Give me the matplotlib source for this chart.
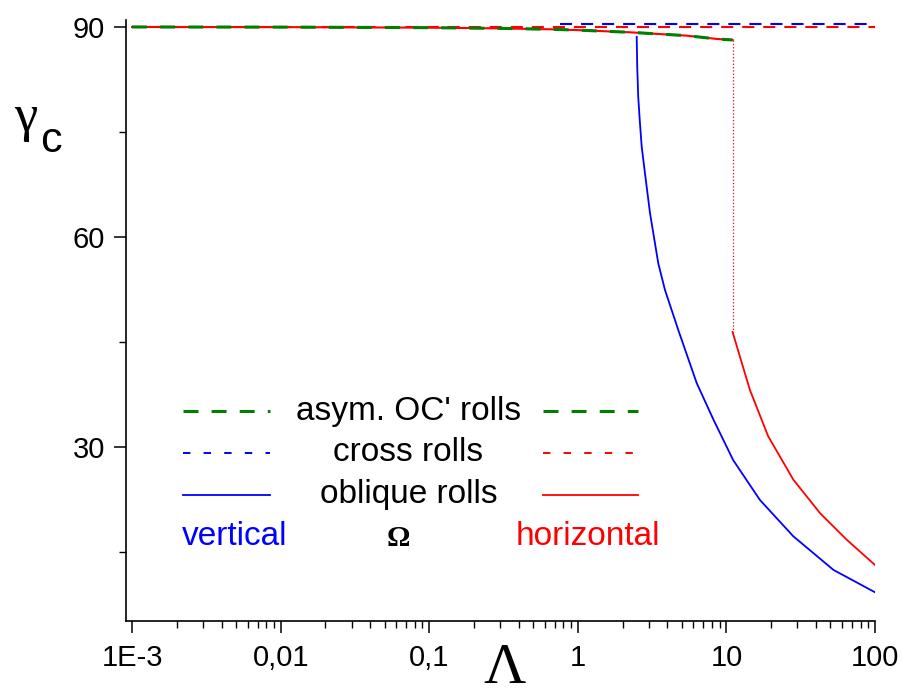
import matplotlib
matplotlib.use('Agg')
import matplotlib.pyplot as plt
from matplotlib.ticker import FixedLocator, FixedFormatter, LogLocator, NullFormatter

plt.rcParams['font.family'] = ['Liberation Sans', 'DejaVu Sans']

# asym. OC' rolls (and oblique horizontal, upper branch)
asym_x = [1e-3, 0.01, 0.1, 0.3, 0.65, 1.0, 2.24, 5.4, 8.6, 11.0]
asym_y = [90.0, 89.98, 89.9, 89.8, 89.67, 89.55, 89.24, 88.76, 88.29, 88.14]

# cross rolls
cross_h_x = [1e-3, 100]
cross_h_y = [90.0, 90.0]
cross_v_x = [0.76, 100]
cross_v_y = [90.43, 90.43]

# oblique rolls, vertical Omega
obl_v_x = [2.49, 2.51, 2.55, 2.61, 2.69, 2.83, 3.06, 3.48, 3.86, 4.46, 4.74, 6.31, 8.17,
           11.1, 16.8, 28.2, 52.5, 100]
obl_v_y = [88.6, 84.4, 80.0, 76.7, 72.9, 69.1, 63.4, 56.2, 52.4, 48.4, 46.7, 39.1, 33.9,
           28.1, 22.4, 17.2, 12.4, 9.2]

# oblique rolls, horizontal Omega (lower branch after the jump)
obl_h_x = [11.0, 14.4, 19.1, 28.2, 42.7, 64.6, 100]
obl_h_y = [46.4, 38.1, 31.5, 25.3, 20.5, 16.7, 13.1]

# jump
jump_x = [11.0, 11.0]
jump_y = [88.14, 46.4]

xticks = [1e-3, 0.01, 0.1, 1, 10, 100]
xlabels = ['1E-3', '0,01', '0,1', '1', '10', '100']
yticks = [30, 60, 90]

fig = plt.figure(figsize=(9.03, 6.96), dpi=100)
ax = fig.add_axes([0.1395, 0.1078, 0.8295, 0.8635])

ax.plot(asym_x, asym_y, color='red', lw=1.5)
ax.plot(cross_h_x, cross_h_y, color='red', lw=1.5, dashes=(5.8, 4.3))
ax.plot(cross_v_x, cross_v_y, color='blue', lw=1.5, dashes=(5.8, 4.3))
ax.plot(asym_x, asym_y, color='green', lw=2.2, dashes=(4.9, 4.3))
ax.plot(obl_v_x, obl_v_y, color='blue', lw=1.3)
ax.plot(obl_h_x, obl_h_y, color='red', lw=1.3)
ax.plot(jump_x, jump_y, color='red', lw=0.9, ls=':')

ax.set_xscale('log')
ax.set_xlim(9.1e-4, 100)
ax.set_ylim(5.1, 91)

ax.xaxis.set_major_locator(FixedLocator(xticks))
ax.xaxis.set_major_formatter(FixedFormatter(xlabels))
ax.xaxis.set_minor_locator(LogLocator(base=10, subs=range(2, 10)))
ax.xaxis.set_minor_formatter(NullFormatter())
ax.yaxis.set_major_locator(FixedLocator(yticks))
ax.yaxis.set_minor_locator(FixedLocator([15, 45, 75]))

for side in ['top', 'right']:
    ax.spines[side].set_visible(False)
for side in ['left', 'bottom']:
    ax.spines[side].set_linewidth(1.2)

ax.tick_params(which='major', direction='out', length=8.6, width=1.1, labelsize=21)
ax.tick_params(axis='y', which='major', pad=6.5)
ax.tick_params(axis='x', which='major', pad=8)
ax.tick_params(which='minor', direction='out', length=5, width=1.0)

# axis labels
fig.text(0.029, 0.812, 'γ', fontsize=38, family='Liberation Serif', ha='center', va='baseline')
fig.text(0.044, 0.782, 'c', fontsize=31, ha='left', va='baseline')
fig.text(0.559, 0.001, 'Λ', fontsize=42, family='Liberation Serif', ha='center', va='bottom')

# hand-made legend
tr = ax.transAxes
rows = [0.349, 0.2795, 0.2097]
names = ["asym. OC' rolls", 'cross rolls', 'oblique rolls']
left_style = [dict(color='green', lw=2.2, dashes=(4.9, 4.3)),
              dict(color='blue', lw=1.4, dashes=(3.8, 6.8)),
              dict(color='blue', lw=1.3)]
right_style = [dict(color='green', lw=2.2, dashes=(4.9, 4.3)),
               dict(color='red', lw=1.4, dashes=(3.8, 6.8)),
               dict(color='red', lw=1.3)]
for yy, name, ls_l, ls_r in zip(rows, names, left_style, right_style):
    ax.plot([0.076, 0.192], [yy, yy], transform=tr, **ls_l)
    ax.plot([0.557, 0.684], [yy, yy], transform=tr, **ls_r)
    ax.text(0.377, yy, name, transform=tr, fontsize=24, ha='center', va='center')

ax.text(0.074, 0.140, 'vertical', transform=tr, fontsize=24, color='blue', ha='left', va='center')
ax.text(0.363, 0.138, 'Ω', transform=tr, fontsize=21, fontweight='bold', family='Liberation Serif',
        ha='center', va='center')
ax.text(0.52, 0.140, 'horizontal', transform=tr, fontsize=24, color='red', ha='left', va='center')

fig.savefig('out.png', dpi=100)
